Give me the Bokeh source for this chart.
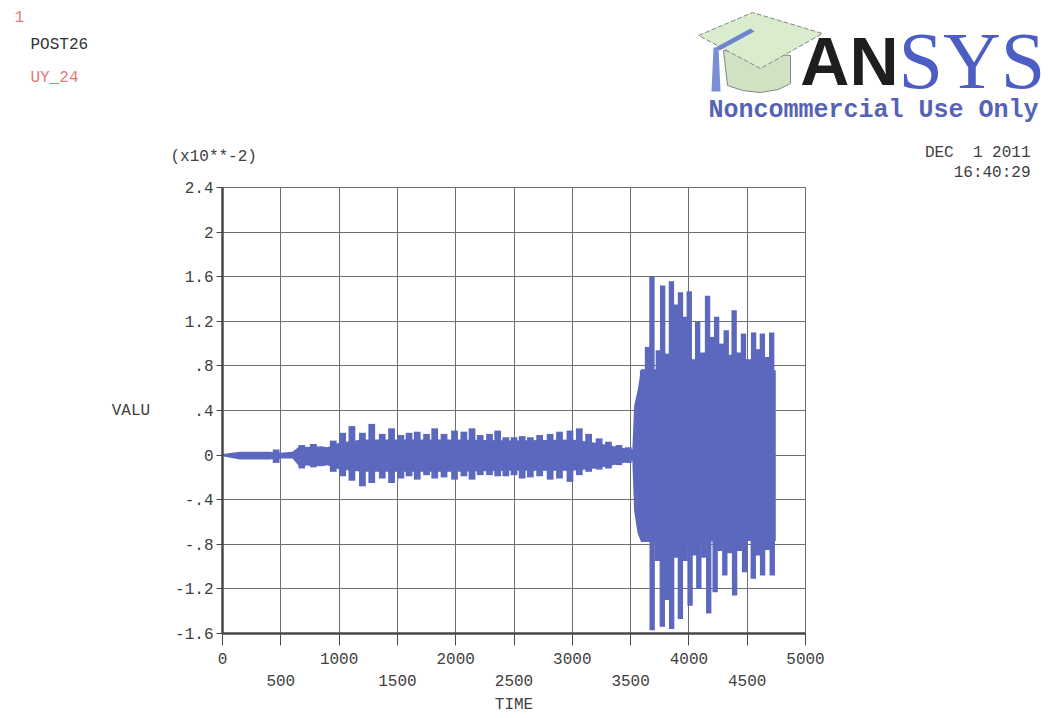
from bokeh.plotting import figure
from bokeh.models import FixedTicker, LinearAxis, Label, Range1d
from bokeh.embed import file_html
from bokeh.resources import INLINE

# ---------------- data (values in units of 1e-2) ----------------
# core band of the oscillation envelope
core_t = [0, 150, 400, 500, 600, 650, 850, 900, 1000, 1200, 1500, 2000, 2500, 3000,
          3200, 3400, 3515, 3530, 3560, 3590, 4000, 4400, 4745]
core_hi = [0.01, 0.03, 0.03, 0.02, 0.03, 0.07, 0.08, 0.07, 0.11, 0.14, 0.14, 0.14, 0.13, 0.14,
           0.11, 0.07, 0.05, 0.44, 0.58, 0.77, 0.77, 0.76, 0.76]
core_lo = [-0.01, -0.04, -0.04, -0.03, -0.03, -0.09, -0.10, -0.09, -0.13, -0.15, -0.15, -0.15, -0.14, -0.14,
           -0.12, -0.08, -0.05, -0.50, -0.70, -0.78, -0.78, -0.77, -0.77]

# beat peaks before the strong excitation
pre_t = [460, 680, 780, 950, 1030, 1110, 1200, 1280, 1370, 1450, 1530, 1600, 1670, 1750, 1820,
         1900, 1990, 2070, 2140, 2210, 2290, 2360, 2430, 2500, 2570, 2640, 2720, 2810, 2890,
         2980, 3060, 3140, 3230, 3310, 3400, 3480]
pre_hi = [0.05, 0.09, 0.10, 0.13, 0.20, 0.26, 0.20, 0.28, 0.19, 0.24, 0.18, 0.20, 0.21, 0.19, 0.24,
          0.19, 0.22, 0.21, 0.24, 0.18, 0.19, 0.22, 0.16, 0.16, 0.17, 0.16, 0.18, 0.19, 0.21,
          0.22, 0.24, 0.19, 0.15, 0.12, 0.09, 0.07]
pre_lo = [-0.07, -0.12, -0.11, -0.15, -0.19, -0.23, -0.28, -0.25, -0.21, -0.25, -0.21, -0.19, -0.22, -0.18, -0.21,
          -0.20, -0.22, -0.19, -0.22, -0.18, -0.18, -0.19, -0.19, -0.18, -0.21, -0.20, -0.19, -0.22, -0.21,
          -0.24, -0.18, -0.15, -0.13, -0.12, -0.09, -0.07]

# upper beat peaks of the strong excitation
up_t = [3603, 3645, 3683, 3738, 3775, 3815, 3850, 3885, 3928, 3965, 4003, 4040, 4075, 4118, 4160, 4200,
        4238, 4280, 4320, 4354, 4388, 4428, 4468, 4512, 4555, 4592, 4630, 4670, 4710]
up_v = [0.76, 0.97, 1.60, 0.94, 1.52, 0.91, 1.56, 1.35, 1.46, 1.24, 1.47, 0.86, 1.20, 0.92, 1.43, 1.06,
        1.24, 1.00, 1.12, 0.90, 1.30, 0.92, 1.09, 0.86, 1.10, 0.95, 1.09, 0.88, 1.10]
# lower beat peaks of the strong excitation
dn_t = [3600, 3685, 3730, 3772, 3812, 3852, 3890, 3927, 3968, 4010, 4048, 4085, 4128, 4170, 4225,
        4265, 4308, 4350, 4392, 4435, 4478, 4552, 4592, 4632, 4672, 4715]
dn_v = [-0.74, -1.57, -0.95, -1.54, -1.30, -1.56, -0.92, -1.47, -0.95, -1.35, -0.90, -1.20, -0.92, -1.42, -1.23,
        -0.86, -1.08, -0.88, -1.26, -0.86, -1.05, -1.11, -0.90, -1.08, -0.85, -1.08]

x_ticks_upper = [0, 1000, 2000, 3000, 4000, 5000]
x_ticks_lower = [500, 1500, 2500, 3500, 4500]
y_ticks = [-1.6, -1.2, -0.8, -0.4, 0, 0.4, 0.8, 1.2, 1.6, 2, 2.4]
y_tick_labels = ["-1.6", "-1.2", "-.8", "-.4", "0", ".4", ".8", "1.2", "1.6", "2", "2.4"]

# logo outline (header pixel space)
cap_top_x = [698, 752, 822, 760]
cap_top_y = [145, 168, 147, 112]
cap_base_x = [723, 727, 742, 760, 778, 790, 790]
cap_base_y = [130, 95, 90, 88, 91, 97, 125]
tassel_a_x = [750, 754, 719, 715]
tassel_a_y = [152, 149, 130, 133]
tassel_b_x = [713, 718, 720, 711]
tassel_b_y = [133, 133, 89, 89]

BLUE = "#5b68bd"
GRID = "#6e6e6e"
AXIS = "#474747"
MONO = "Liberation Mono"
W = 1046
HEAD_H = 180

# ---------------- header (titles, logo, date) ----------------
head = figure(width=W, height=HEAD_H, output_backend="svg", toolbar_location=None,
              x_range=Range1d(0, W), y_range=Range1d(0, HEAD_H), min_border=0,
              x_axis_location=None, y_axis_location=None)
head.grid.visible = False
head.outline_line_color = None
head.background_fill_color = "white"
head.border_fill_color = "white"

head.patch(cap_base_x, cap_base_y, fill_color="#cfe3c3", line_color="#858585", line_width=1)
head.patch(cap_top_x, cap_top_y, fill_color="#d9eccd", line_color="#858585", line_width=1,
           line_dash="5 2")
head.patch(tassel_a_x, tassel_a_y, fill_color="#6f84cf", line_color=None)
head.patch(tassel_b_x, tassel_b_y, fill_color="#7b90d4", line_color=None)


def hlab(x, y, text, color="#333333", size="16px", font=MONO, align="left", style="normal",
         baseline="middle"):
    head.add_layout(Label(x=x, y=HEAD_H - y, text=text, text_color=color, text_font=font,
                          text_font_size=size, text_align=align, text_font_style=style,
                          text_baseline=baseline))


hlab(14, 16, "1", color="#e07a7a")
hlab(30, 44, "POST26")
hlab(30, 77, "UY_24", color="#e07a7a")
hlab(170, 156, "(x10**-2)", color="#404040")
hlab(1030, 152, "DEC\u00a0 1 2011", color="#404040", align="right")
hlab(1030, 172, "16:40:29", color="#404040", align="right")
hlab(1038, 110, "Noncommercial Use Only", color="#5563b5", size="25px", align="right", style="bold")
hlab(898, 60, "AN", color="#1e1e1e", size="68px", font="Liberation Sans", align="right",
     style="bold", baseline="alphabetic")
hlab(898, 60, "SYS", color="#4c5ec4", size="80px", font="Liberation Serif", align="left",
     baseline="alphabetic")

# ---------------- main plot ----------------
p = figure(width=W, height=716 - HEAD_H, output_backend="svg", toolbar_location=None,
           x_range=Range1d(0, 5000), y_range=Range1d(-1.6, 2.4),
           min_border_left=222, min_border_right=241, min_border_top=7, min_border_bottom=82)
p.background_fill_color = "white"
p.border_fill_color = "white"
p.outline_line_color = GRID
p.outline_line_width = 1

all_x = sorted(x_ticks_upper + x_ticks_lower)
p.xgrid.ticker = FixedTicker(ticks=all_x)
p.ygrid.ticker = FixedTicker(ticks=y_ticks)
p.grid.grid_line_color = GRID
p.grid.grid_line_width = 1

p.varea(x=core_t, y1=core_lo, y2=core_hi, fill_color=BLUE)
p.vbar(x=pre_t, bottom=pre_lo, top=pre_hi, width=58, fill_color=BLUE, line_color=None)
p.vbar(x=up_t, bottom=0, top=up_v, width=46, fill_color=BLUE, line_color=None)
p.vbar(x=dn_t, bottom=dn_v, top=0, width=46, fill_color=BLUE, line_color=None)

xa = p.xaxis[0]
xa.ticker = FixedTicker(ticks=all_x)
xa.major_label_overrides = {t: ("" if t in x_ticks_lower else str(t)) for t in all_x}
xa.axis_line_color = AXIS
xa.axis_line_width = 2.5
xa.major_tick_line_color = AXIS
xa.major_tick_out = 12
xa.major_tick_in = 0
xa.minor_tick_line_color = None
xa.major_label_standoff = 7
xa.major_label_text_font = MONO
xa.major_label_text_font_size = "16px"
xa.major_label_text_color = "#404040"

xb = LinearAxis(ticker=FixedTicker(ticks=x_ticks_lower), axis_label="TIME")
xb.axis_line_color = None
xb.major_tick_line_color = None
xb.minor_tick_line_color = None
xb.major_label_standoff = 2
xb.major_label_text_font = MONO
xb.major_label_text_font_size = "16px"
xb.major_label_text_color = "#404040"
xb.axis_label_standoff = 7
xb.axis_label_text_font = MONO
xb.axis_label_text_font_size = "16px"
xb.axis_label_text_font_style = "normal"
xb.axis_label_text_color = "#404040"
p.add_layout(xb, "below")

ya = p.yaxis[0]
ya.ticker = FixedTicker(ticks=y_ticks)
ya.major_label_overrides = dict(zip(y_ticks, y_tick_labels))
ya.axis_line_color = AXIS
ya.axis_line_width = 2.5
ya.major_tick_line_color = AXIS
ya.major_tick_out = 6
ya.major_tick_in = 0
ya.minor_tick_line_color = None
ya.major_label_standoff = 3
ya.major_label_text_font = MONO
ya.major_label_text_font_size = "16px"
ya.major_label_text_color = "#404040"
ya.axis_label = "VALU"
ya.axis_label_orientation = "horizontal"
ya.axis_label_standoff = 22
ya.axis_label_text_font = MONO
ya.axis_label_text_font_size = "16px"
ya.axis_label_text_font_style = "normal"
ya.axis_label_text_color = "#404040"

open("out.html", "w").write(file_html([head, p], INLINE))
